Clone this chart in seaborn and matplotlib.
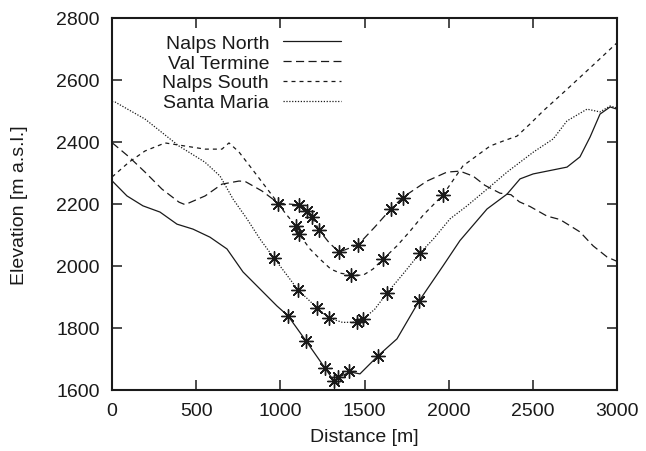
import matplotlib
matplotlib.use("Agg")
import matplotlib.pyplot as plt
import numpy as np
import pandas as pd
import seaborn as sns

# ---------------- data ----------------
names = ["Nalps North", "Val Termine", "Nalps South", "Santa Maria"]

nn_x = [0, 89, 184, 285, 386, 481, 582, 683, 778, 879, 980, 1046, 1153, 1265, 1320,
        1360, 1414, 1473, 1580, 1693, 1824, 1966, 2067, 2228, 2347, 2424, 2502, 2703,
        2780, 2840, 2899, 2959, 3000]
nn_y = [2275, 2226, 2194, 2174, 2135, 2119, 2093, 2055, 1981, 1926, 1871, 1839, 1758, 1671, 1628,
        1645, 1658, 1652, 1710, 1765, 1887, 2000, 2082, 2184, 2232, 2281, 2297, 2319,
        2352, 2416, 2490, 2513, 2506]

vt_x = [0, 101, 196, 297, 398, 434, 553, 653, 754, 790, 891, 987, 1111, 1158, 1188, 1230,
        1290, 1349, 1461, 1560, 1657, 1729, 1871, 1990, 2067, 2145, 2216, 2305, 2370, 2420,
        2483, 2584, 2661, 2780, 2858, 2941, 3000]
vt_y = [2398, 2352, 2303, 2248, 2206, 2198, 2226, 2264, 2274, 2273, 2242, 2203, 2197, 2176, 2158, 2116,
        2075, 2045, 2068, 2125, 2184, 2222, 2274, 2303, 2306, 2290, 2260, 2235, 2230, 2207,
        2192, 2161, 2150, 2110, 2065, 2029, 2015]

ns_x = [0, 101, 196, 315, 434, 553, 653, 695, 754, 832, 909, 968, 1030, 1093, 1111, 1176,
        1236, 1300, 1355, 1420, 1491, 1550, 1610, 1693, 1770, 1850, 1966, 2085, 2246, 2323,
        2406, 2483, 2561, 2703, 2858, 3000]
ns_y = [2287, 2335, 2371, 2397, 2387, 2377, 2377, 2397, 2368, 2313, 2258, 2216, 2170, 2129, 2103, 2055,
        2022, 1990, 1977, 1971, 1970, 1990, 2022, 2065, 2112, 2165, 2229, 2323, 2387, 2403,
        2419, 2458, 2500, 2570, 2648, 2720]

sm_x = [0, 18, 196, 398, 552, 642, 719, 802, 879, 962, 1040, 1105, 1218, 1289, 1370, 1455,
        1491, 1560, 1634, 1730, 1830, 1909, 2008, 2109, 2228, 2347, 2502, 2621, 2703, 2822,
        2899, 2959, 3000]
sm_y = [2530, 2529, 2474, 2387, 2335, 2290, 2216, 2152, 2087, 2026, 1970, 1923, 1865, 1832, 1818, 1819,
        1829, 1860, 1913, 1975, 2042, 2087, 2152, 2194, 2248, 2303, 2367, 2410, 2468, 2506,
        2497, 2516, 2510]

# sampling points (asterisks)
nn_mx = [1046, 1153, 1265, 1320, 1345, 1410, 1580, 1824]
nn_my = [1839, 1758, 1671, 1628, 1642, 1660, 1710, 1887]
vt_mx = [987, 1111, 1158, 1188, 1230, 1349, 1461, 1657, 1729]
vt_my = [2200, 2197, 2176, 2158, 2116, 2045, 2068, 2184, 2219]
ns_mx = [1093, 1111, 1420, 1610, 1966]
ns_my = [2129, 2103, 1971, 2022, 2229]
sm_mx = [962, 1105, 1218, 1289, 1455, 1491, 1634, 1830]
sm_my = [2026, 1923, 1865, 1832, 1819, 1829, 1913, 2042]

x_ticks = [0, 500, 1000, 1500, 2000, 2500, 3000]
y_ticks = [1600, 1800, 2000, 2200, 2400, 2600, 2800]

# ---------------- style ----------------
sns.set_theme(style="ticks")
plt.rcParams["font.family"] = ["Liberation Sans", "DejaVu Sans"]
ink = "#1a1a1a"

fig = plt.figure(figsize=(6.46, 4.52), dpi=100)
ax = fig.add_axes([112 / 646, 1 - 391 / 452, 505 / 646, 372 / 452])

lines = [(nn_x, nn_y, "-"), (vt_x, vt_y, (0, (6.5, 3.5))),
         (ns_x, ns_y, (0, (3.2, 3.2))), (sm_x, sm_y, (0, (1.0, 1.3)))]
for name, (xs, ys, ls) in zip(names, lines):
    sns.lineplot(x=xs, y=ys, ax=ax, color=ink, lw=0.9, linestyle=ls,
                 label=name, estimator=None, sort=False)

for mx, my in [(nn_mx, nn_my), (vt_mx, vt_my), (ns_mx, ns_my), (sm_mx, sm_my)]:
    sns.scatterplot(x=mx, y=my, ax=ax, marker=(8, 2, 0), s=95, color=ink,
                    edgecolor=ink, linewidth=1.0, zorder=3, legend=False)

ax.set_xlim(0, 3000)
ax.set_ylim(1600, 2800)
ax.set_xticks(x_ticks)
ax.set_yticks(y_ticks)
ax.tick_params(direction="in", length=7.5, width=1.1, top=True, right=True,
               labelsize=14, pad=9, colors=ink)
for sp in ax.spines.values():
    sp.set_linewidth(1.5)
    sp.set_color(ink)

ax.set_xlabel("Distance [m]", fontsize=14, color=ink, labelpad=6)
ax.set_ylabel("Elevation [m a.s.l.]", fontsize=14, color=ink, labelpad=20)

leg = ax.legend(loc="upper right", bbox_to_anchor=(0.4535, 0.957), frameon=False,
                markerfirst=False, handlelength=3.0, handletextpad=0.7,
                labelspacing=0.12, borderpad=0, borderaxespad=0, fontsize=14)
for t in leg.get_texts():
    t.set_color(ink)

fig.savefig("out.png", dpi=100)
